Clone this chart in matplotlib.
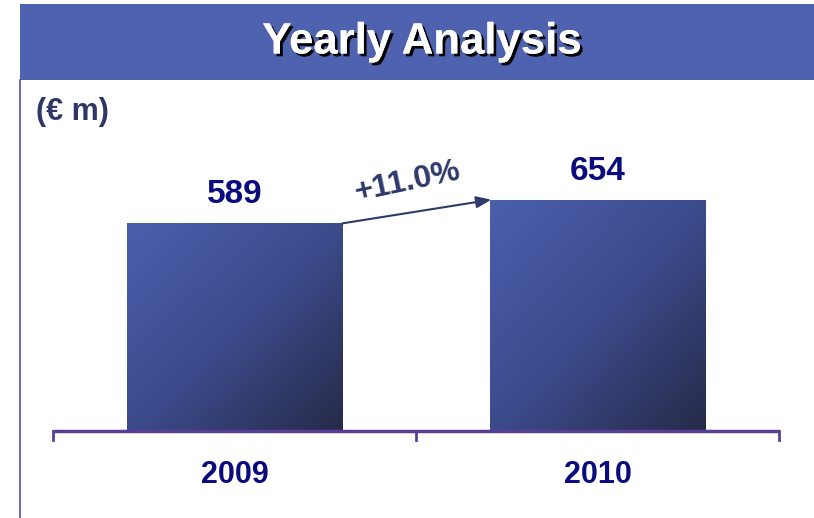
import numpy as np
import matplotlib
matplotlib.use("Agg")
import matplotlib.pyplot as plt
import matplotlib.patheffects as pe
from matplotlib.colors import LinearSegmentedColormap

years = ["2009", "2010"]
values = [589, 654]
growth_label = "+11.0%"
unit_label = "(€ m)"
title = "Yearly Analysis"

W, H = 814, 518
fig = plt.figure(figsize=(W / 100, H / 100), dpi=100)
fig.patch.set_facecolor("white")
FONT = "Liberation Sans"

def fx(px):
    return px / W

def fy(py):
    return 1 - py / H

# banner
banner = fig.add_axes([fx(20), fy(80), fx(814 - 20), (80 - 4) / H])
banner.set_facecolor("#4F62AF")
banner.set_xticks([]); banner.set_yticks([])
for s in banner.spines.values():
    s.set_visible(False)
fig.text(fx(422), fy(42), title, color="white", fontsize=31.5, fontweight="bold",
         family=FONT, ha="center", va="center",
         path_effects=[pe.withSimplePatchShadow(offset=(2, -2), shadow_rgbFace="black", alpha=1.0),
                       pe.Normal()])

# left border line
fig.add_artist(plt.Line2D([fx(20), fx(20)], [fy(80), 0], color="#5B4E9C", lw=1.2))

fig.text(fx(36), fy(112), unit_label, color="#2E3766", fontsize=22, fontweight="bold",
         family=FONT, ha="left", va="center")

# main axes: x from 53 to 779 px, y baseline at 431 px
base_px = 431
ymax = 1000
scale = (base_px - 223) / values[0]
top_px = base_px - ymax * scale
ax = fig.add_axes([fx(53), fy(base_px), fx(779 - 53), (base_px - top_px) / H])
ax.set_xlim(-0.5, 1.5)
ax.set_ylim(0, ymax)
ax.axis("off")
ax.patch.set_alpha(0)

cmap = LinearSegmentedColormap.from_list("g", ["#4B5FAD", "#3C4B8C", "#262B49"])
xx, yy = np.meshgrid(np.linspace(0, 1, 200), np.linspace(0, 1, 200))
grad = (xx + (1 - yy)) / 2  # top-left 0 -> bottom-right 1 (origin lower)

bw = 0.595
x = np.arange(len(years))
bars = ax.bar(x, values, width=bw, color="none", edgecolor="none")
for b in bars:
    x0, y0 = b.get_x(), b.get_y()
    w, h = b.get_width(), b.get_height()
    im = ax.imshow(grad, cmap=cmap, extent=[x0, x0 + w, y0, y0 + h], origin="lower",
                   aspect="auto", zorder=2, interpolation="bilinear")
    im.set_clip_path(b)
ax.set_xlim(-0.5, 1.5)
ax.set_ylim(0, ymax)

for xi, v in zip(x, values):
    ax.text(xi, v + 36, str(v), color="#0B0B80", fontsize=24, fontweight="bold",
            family=FONT, ha="center", va="bottom")

# axis line with ticks
axis_col = "#5B3E94"
ax.plot([-0.5, 1.5], [0, 0], color=axis_col, lw=2.5, clip_on=False, zorder=3,
        solid_capstyle="butt")
tick_len = 9 / scale
for t in [-0.5, 0.5, 1.5]:
    ax.plot([t, t], [0, -tick_len], color=axis_col, lw=2, clip_on=False, zorder=3)

for xi, yr in zip(x, years):
    ax.text(xi, -44 / scale, yr, color="#0B0B80", fontsize=22, fontweight="bold",
            family=FONT, ha="center", va="center")

# growth arrow
ax.annotate("", xy=(x[1] - bw / 2 + 0.005, values[1] + 1), xytext=(x[0] + bw / 2, values[0] - 1),
            arrowprops=dict(arrowstyle="-|>,head_length=0.9,head_width=0.35", color="#2F3A6B",
                            lw=1.5, shrinkA=0, shrinkB=0), zorder=4)
ax.text(0.478, values[0] + 117, growth_label, color="#2F3A6B", fontsize=23, fontweight="bold",
        family=FONT, ha="center", va="center", rotation=12)

fig.savefig("out.png", dpi=100)
